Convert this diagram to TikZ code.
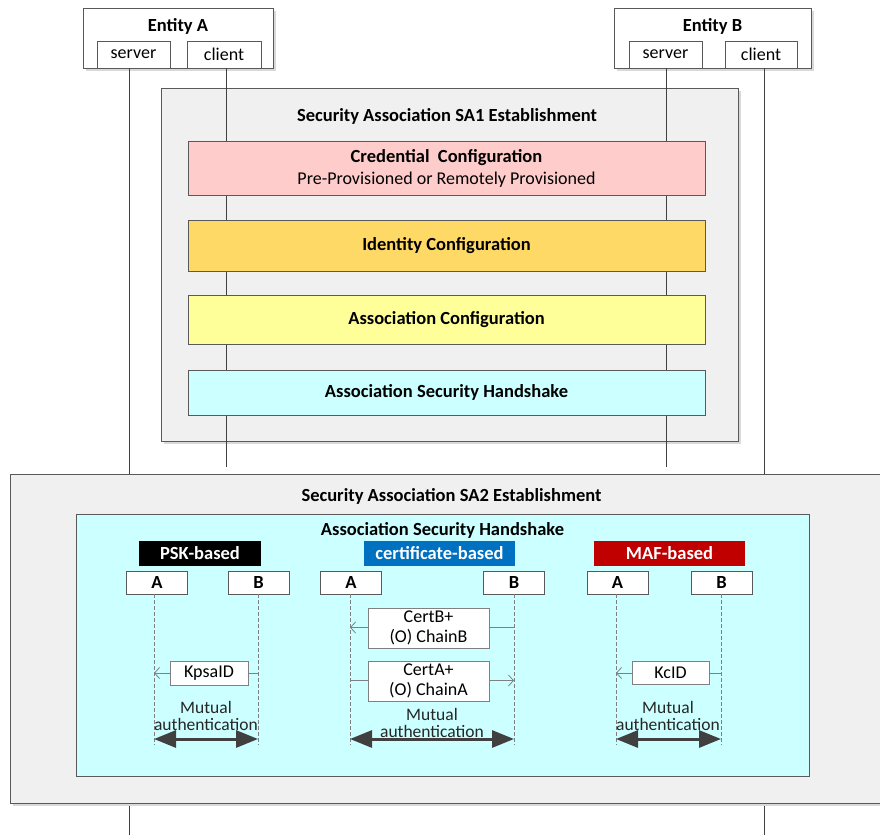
\documentclass[tikz,border=0pt]{standalone}
\usepackage{fontspec}
\setmainfont{Carlito}
\usetikzlibrary{arrows.meta,shadows}
\definecolor{lineC}{HTML}{404040}
\definecolor{borderC}{HTML}{595959}
\definecolor{boxgray}{HTML}{F0F0F0}
\definecolor{pinkC}{HTML}{FFCCCC}
\definecolor{orangeC}{HTML}{FFD966}
\definecolor{yellowC}{HTML}{FFFF99}
\definecolor{cyanC}{HTML}{CCFFFF}
\definecolor{blueC}{HTML}{0070C0}
\definecolor{redC}{HTML}{C00000}
\definecolor{dashC}{HTML}{808080}
\definecolor{shadowC}{HTML}{D9D9D9}
\begin{document}
\begin{tikzpicture}[x=1pt,y=-1pt,
  every node/.style={inner sep=0pt, outer sep=0pt, font=\fontsize{18}{21}\selectfont},
  bold/.style={font=\bfseries\fontsize{18.5}{21}\selectfont},
  title/.style={bold, yshift=-1.5pt},
  shad/.style={drop shadow={shadow xshift=3pt, shadow yshift=-3pt, fill=shadowC, opacity=1}},
  bx/.style={draw=borderC, line width=0.8pt, align=center},
  entity/.style={bx, fill=white, shad},
  sub/.style={bx, fill=white},
  frame/.style={bx, fill=boxgray, shad},
  phase/.style={bx, font=\fontsize{18}{22}\selectfont},
  tag/.style={fill=#1, text=white, bold},
  life/.style={draw=lineC, line width=0.8pt},
  dlife/.style={draw=dashC, line width=0.8pt, dash pattern=on 4pt off 2pt},
  msg/.style={draw=dashC, line width=0.8pt, -{Straight Barb[length=5pt,width=11pt]}},
  msgbox/.style={bx, fill=white, draw=dashC, font=\fontsize{18}{20}\selectfont},
  mutual/.style={draw=lineC, line width=3pt, {Triangle[length=22pt,width=17pt]}-{Triangle[length=22pt,width=17pt]}},
  mtext/.style={align=center, font=\fontsize{17.5}{17}\selectfont, text=black!85}
]
\useasboundingbox (0,0) rectangle (880,835);
\fill[white] (0,0) rectangle (880,835);

% Entities
\node[entity, minimum width=190pt, minimum height=60pt] (entA) at (178,38) {};
\node[title] (entAt) at (178,25) {Entity A};
\node[sub, minimum width=73pt, minimum height=27pt] (srvA) at (133.5,54.5) {server};
\node[sub, minimum width=74pt, minimum height=27pt] (cliA) at (224,54.5) {client};

\node[entity, minimum width=197pt, minimum height=60pt] (entB) at (712.5,38) {};
\node[title] (entBt) at (712.5,25) {Entity B};
\node[sub, minimum width=73pt, minimum height=27pt] (srvB) at (665.5,54.5) {server};
\node[sub, minimum width=72pt, minimum height=27pt] (cliB) at (761,54.5) {client};

% lifeline coordinates
\coordinate (xSA) at (129,0);
\coordinate (xCA) at (226,0);
\coordinate (xSB) at (666,0);
\coordinate (xCB) at (764,0);
\coordinate (yLong) at (0,835);
\coordinate (yShort) at (0,467);

\draw[life] (srvA.south -| xSA) -- (xSA |- yLong);
\draw[life] (cliB.south -| xCB) -- (xCB |- yLong);

% SA1
\node[frame, minimum width=577pt, minimum height=353pt] (sa1) at (449.5,264.5) {};
\node[title] (sa1t) at (447,115) {Security Association SA1 Establishment};

\draw[life] (cliA.south -| xCA) -- (xCA |- yShort);
\draw[life] (srvB.south -| xSB) -- (xSB |- yShort);

\node[phase, fill=pinkC, minimum width=517pt, minimum height=54pt] (cred) at (446.5,168)
  {\textbf{\fontsize{18.5}{22}\selectfont Credential\ \ Configuration}\\Pre-Provisioned or Remotely Provisioned};
\node[phase, fill=orangeC, minimum width=517pt, minimum height=51pt, bold] (ident) at (446.5,245.5) {Identity Configuration};
\node[phase, fill=yellowC, minimum width=517pt, minimum height=49pt, bold] (assoc) at (446.5,319.5) {Association Configuration};
\node[phase, fill=cyanC, minimum width=517pt, minimum height=45pt, bold] (hand) at (446.5,392.5) {Association Security Handshake};

% SA2
\node[frame, minimum width=876pt, minimum height=329pt] (sa2) at (448,638.5) {};
\node[title] (sa2t) at (451.5,495) {Security Association SA2 Establishment};
\node[bx, fill=cyanC, minimum width=733pt, minimum height=262pt] (hs) at (442.5,645) {};
\node[title] (hst) at (442.5,529) {Association Security Handshake};

% tags
\node[tag=black, minimum width=122pt, minimum height=25pt] (pskT) at (200,553.5) {PSK-based};
\node[tag=blueC, minimum width=151pt, minimum height=25pt] (certT) at (439.5,553.5) {certificate-based};
\node[tag=redC, minimum width=151pt, minimum height=25pt] (mafT) at (669.5,553.5) {MAF-based};

% A/B boxes
\tikzset{ab/.style={sub, minimum width=61pt, minimum height=23pt, bold}}
\node[ab] (pskA) at (157,582.5) {A};
\node[ab] (pskB) at (258.5,582.5) {B};
\node[ab] (certA) at (351,582.5) {A};
\node[ab] (certB) at (514,582.5) {B};
\node[ab] (mafA) at (617.5,582.5) {A};
\node[ab] (mafB) at (721.5,582.5) {B};

\coordinate (xpA) at (154,0);
\coordinate (xpB) at (258,0);
\coordinate (xcA) at (350,0);
\coordinate (xcB) at (514,0);
\coordinate (xmA) at (616,0);
\coordinate (xmB) at (721,0);
\coordinate (yDash) at (0,745);
\foreach \b/\x in {pskA/xpA, pskB/xpB, certA/xcA, certB/xcB, mafA/xmA, mafB/xmB}
  \draw[dlife] (\b.south -| \x) -- (\x |- yDash);

% messages
\coordinate (yP) at (0,673);
\coordinate (yC1) at (0,627.5);
\coordinate (yC2) at (0,680.5);
\draw[msg] (xpB |- yP) -- (xpA |- yP);
\node[msgbox, minimum width=78pt, minimum height=24pt] (kpsa) at (209,673) {KpsaID};
\draw[msg] (xcB |- yC1) -- (xcA |- yC1);
\node[msgbox, minimum width=121pt, minimum height=40pt] (certBm) at (428.5,628) {CertB+\\(O) ChainB};
\draw[msg] (xcA |- yC2) -- (xcB |- yC2);
\node[msgbox, minimum width=121pt, minimum height=40pt] (certAm) at (428.5,681) {CertA+\\(O) ChainA};
\draw[msg] (xmB |- yP) -- (xmA |- yP);
\node[msgbox, minimum width=77pt, minimum height=23pt] (kcid) at (670.5,672.5) {KcID};

% mutual authentication
\coordinate (yM) at (0,739);
\node[mtext] (pskM) at (206,716) {Mutual\\authentication};
\node[mtext] (certM) at (432,722.5) {Mutual\\authentication};
\node[mtext] (mafM) at (668,716) {Mutual\\authentication};
\draw[mutual] (xpA |- yM) -- (xpB |- yM);
\draw[mutual] (xcA |- yM) -- (xcB |- yM);
\draw[mutual] (xmA |- yM) -- (xmB |- yM);
\end{tikzpicture}
\end{document}
